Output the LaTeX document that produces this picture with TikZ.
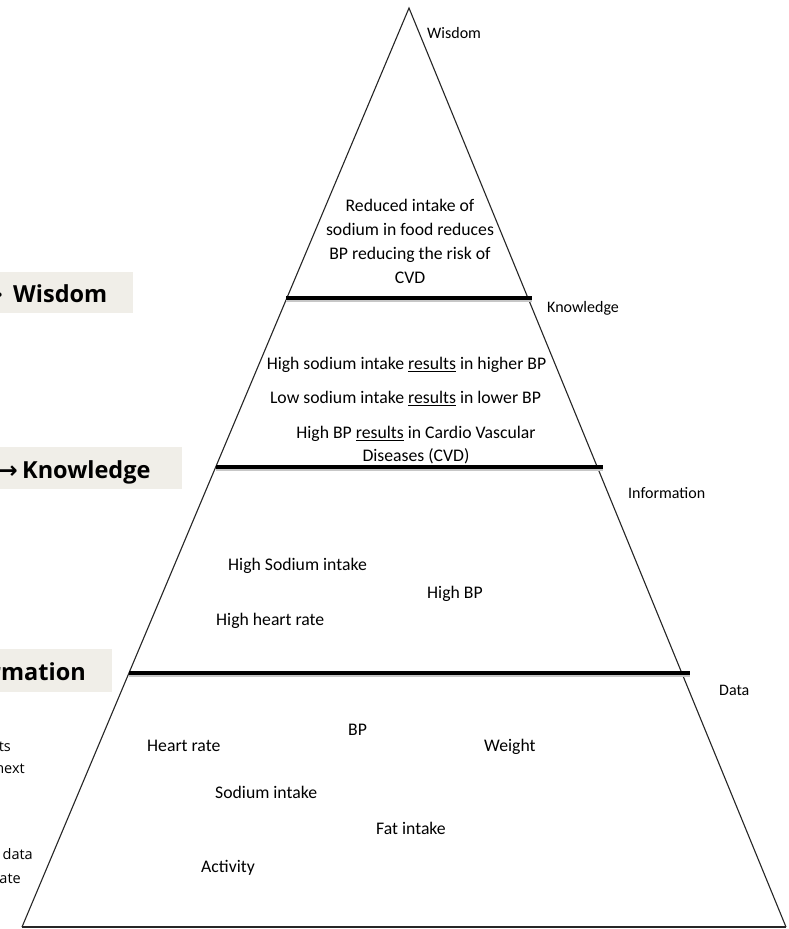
\documentclass[tikz,border=0pt]{standalone}
\usepackage{fontspec}
\setmainfont{Carlito}
\newfontfamily\boxfont{Open Sans}
\newfontfamily\arrfont{DejaVu Sans}
\definecolor{boxbg}{RGB}{240,238,232}
\begin{document}
\begin{tikzpicture}[x=1pt,y=-1pt,
  body/.style={font=\fontsize{17.7}{23}\selectfont, inner sep=0pt},
  lvl/.style={font=\fontsize{16}{19}\selectfont, inner sep=0pt, anchor=base west},
  bar/.style={line width=3.2pt, black},
  barshadow/.style={line width=2.5pt, black!22},
  edge/.style={line width=1.1pt, black!85},
  tagtext/.style={font=\boxfont\bfseries\fontsize{23.5}{28}\selectfont, inner sep=0pt},
  tagarrow/.style={font=\arrfont\bfseries\fontsize{23.5}{28}\selectfont, inner sep=0pt, anchor=base west},
  side/.style={font=\boxfont\fontsize{14.5}{17}\selectfont, inner sep=0pt, anchor=base east}
]
\useasboundingbox (0,0) rectangle (788,929);
\fill[white] (0,0) rectangle (788,929);
\clip (0,0) rectangle (788,929);

% pyramid outline
\coordinate (apex) at (409,8);
\coordinate (bl) at (22,927);
\coordinate (br) at (786,927);
\draw[edge, line join=miter] (bl) -- (apex) -- (br);
\draw[edge] (bl) -- (br);

% level bars
\coordinate (b1l) at (286,298); \coordinate (b1r) at (532,298);
\coordinate (b2l) at (216,467); \coordinate (b2r) at (603,467);
\coordinate (b3l) at (129,673); \coordinate (b3r) at (690,673);
\foreach \l/\r in {b1l/b1r,b2l/b2r,b3l/b3r}{
  \draw[barshadow] ([yshift=-2.6pt]\l) -- ([yshift=-2.6pt]\r);
  \draw[bar] (\l) -- (\r);
}

% level labels
\node[lvl] (lw) at (427,38) {Wisdom};
\node[lvl] (lk) at (547,312) {Knowledge};
\node[lvl] (li) at (628,498) {Information};
\node[lvl] (ld) at (719,695) {Data};

% wisdom
\node[body, align=center, font=\fontsize{17.7}{24}\selectfont] (w1) at (410,241.5) {Reduced intake of\\sodium in food reduces\\BP reducing the risk of\\CVD};

% knowledge
\node[body, anchor=base] (k1) at (406.5,369.5) {High sodium intake \underline{results} in higher BP};
\node[body, anchor=base] (k2) at (405.5,403.5) {Low sodium intake \underline{results} in lower BP};
\node[body, align=center] (k3) at (416,445) {High BP \underline{results} in Cardio Vascular\\Diseases (CVD)};

% information
\node[body, anchor=base west] (i1) at (228,570.5) {High Sodium intake};
\node[body, anchor=base west] (i2) at (427,598) {High BP};
\node[body, anchor=base west] (i3) at (216,625) {High heart rate};

% data
\node[body, anchor=base west] (d1) at (348,735.5) {BP};
\node[body, anchor=base west] (d2) at (147,751.5) {Heart rate};
\node[body, anchor=base west] (d3) at (484,751.5) {Weight};
\node[body, anchor=base west] (d4) at (215,798.5) {Sodium intake};
\node[body, anchor=base west] (d5) at (376,834.5) {Fat intake};
\node[body, anchor=base west] (d6) at (201,872.5) {Activity};

% left tags (cut off at the page edge, as in the original)
\fill[boxbg] (0,272) rectangle (133,313);
\node[tagarrow] (ta1) at (-17,302) {→};
\node[tagtext, anchor=base west] (tw1) at (13,302) {Wisdom};

\fill[boxbg] (0,447) rectangle (182,489);
\node[tagarrow] (ta2) at (-2,478) {→};
\node[tagtext, anchor=base west] (tk2) at (22,478) {Knowledge};

\fill[boxbg] (0,649) rectangle (112,692);
\node[tagtext, anchor=base east] (ti3) at (86,680) {rmation};

% left side notes (cut off at the page edge)
\node[side] (s1) at (11,751.5) {ts};
\node[side] (s2) at (25,773) {next};
\node[side] (s3) at (33,859) {data};
\node[side] (s4) at (21,883) {ate};
\end{tikzpicture}
\end{document}
